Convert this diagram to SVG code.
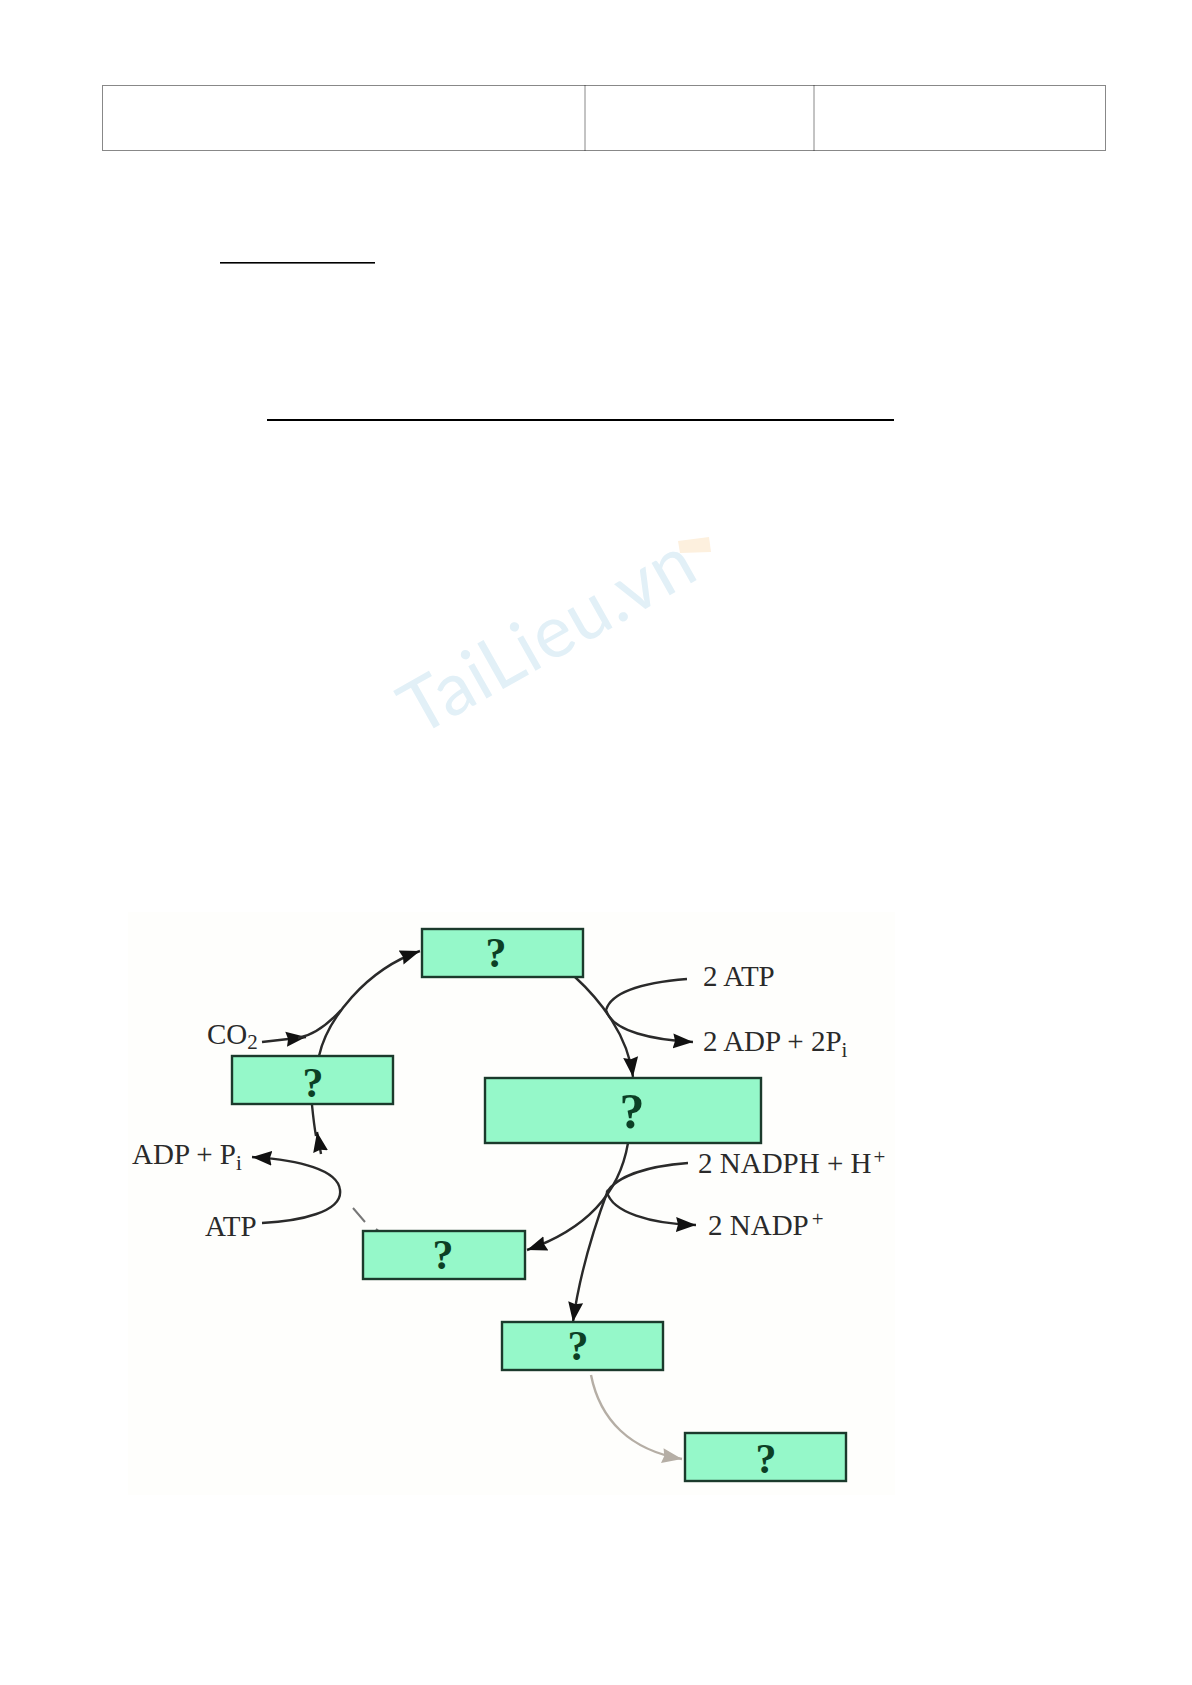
<svg xmlns="http://www.w3.org/2000/svg" width="1192" height="1685" viewBox="0 0 1192 1685">
<style>
.box{fill:#95f8c9;stroke:#1b3a2c;stroke-width:2.4}
.q{font-family:"Liberation Serif",serif;font-weight:bold;font-size:42px;fill:#0c3f25;text-anchor:middle}
.t{font-family:"Liberation Serif",serif;font-size:29px;fill:#2a2a2a}
.s{font-size:21px}
.c{fill:none;stroke:#2a2a2a;stroke-width:2.4}
.tb{fill:none;stroke:#111;stroke-width:1;stroke-dasharray:1 1}
</style>
<defs>
<marker id="h" markerUnits="userSpaceOnUse" markerWidth="22" markerHeight="18" refX="20" refY="9" orient="auto"><path d="M0,1.5 L20,9 L0,16.5 L2,9 Z" fill="#111"/></marker>
<marker id="g" markerUnits="userSpaceOnUse" markerWidth="22" markerHeight="18" refX="20" refY="9" orient="auto"><path d="M0,1.5 L20,9 L0,16.5 L2,9 Z" fill="#b5aea5"/></marker>
</defs>
<rect width="1192" height="1685" fill="#fff"/>
<g id="table">
<rect class="tb" x="102.5" y="85.5" width="1003" height="65"/>
<path class="tb" d="M585,85.5V150.5M814,85.5V150.5"/>
</g>
<g id="underlines" fill="#000">
<rect x="220" y="262" width="155" height="1.6"/>
<rect x="267" y="419" width="627" height="2"/>
</g>
<g id="watermark">
<text x="418" y="737" transform="rotate(-29.4 418 737)" font-family="Lato,Liberation Sans,sans-serif" font-size="73" letter-spacing="1" fill="#e2f0f7">TaiLieu.vn</text>
<path d="M678,541 L709,537 L711,552 L680,553 Z" fill="#fdf0de"/>
</g>
<rect id="figure-ground" x="128" y="912" width="767" height="583" fill="#fefefc"/>
<g id="connectors">
<path class="c" d="M319,1056C327,1020 365,970 420,951" marker-end="url(#h)"/>
<path class="c" d="M262,1042L306,1037" marker-end="url(#h)"/>
<path class="c" d="M298,1038C315,1035 330,1022 341,1010"/>
<path class="c" d="M312,1105C313,1115 314,1125 316,1136"/>
<path class="c" d="M321,1154L317,1132" marker-end="url(#h)"/>
<path d="M353,1208L365,1222M376,1229L380,1232" fill="none" stroke="#777" stroke-width="2"/>
<path class="c" d="M262,1223C300,1221 343,1212 340,1190C338,1170 300,1160 252,1157" marker-end="url(#h)"/>
<path class="c" d="M575,977C600,1000 628,1035 633,1077" marker-end="url(#h)"/>
<path class="c" d="M687,979C650,982 612,990 606,1010C612,1032 655,1040 693,1042" marker-end="url(#h)"/>
<path class="c" d="M628,1143C620,1190 590,1228 527,1250" marker-end="url(#h)"/>
<path class="c" d="M608,1190C595,1225 580,1270 573,1322" marker-end="url(#h)"/>
<path class="c" d="M688,1163C650,1166 618,1175 607,1192C612,1212 650,1224 696,1225" marker-end="url(#h)"/>
<path d="M591,1375C600,1420 630,1450 682,1459" fill="none" stroke="#b5aea5" stroke-width="2.4" marker-end="url(#g)"/>
</g>
<g id="node-top"><rect class="box" x="422" y="929" width="161" height="48"/><text class="q" x="496" y="967">?</text></g>
<g id="node-left"><rect class="box" x="232" y="1056" width="161" height="48"/><text class="q" x="313" y="1097">?</text></g>
<g id="node-middle"><rect class="box" x="485" y="1078" width="276" height="65"/><text class="q" x="632" y="1128" style="font-size:50px">?</text></g>
<g id="node-lower-left"><rect class="box" x="363" y="1231" width="162" height="48"/><text class="q" x="443" y="1269">?</text></g>
<g id="node-lower"><rect class="box" x="502" y="1322" width="161" height="48"/><text class="q" x="578" y="1360">?</text></g>
<g id="node-final"><rect class="box" x="685" y="1433" width="161" height="48"/><text class="q" x="766" y="1473">?</text></g>
<g id="labels">
<text class="t" x="207" y="1044">CO<tspan class="s" dy="5">2</tspan></text>
<text class="t" x="132" y="1164">ADP + P<tspan class="s" dy="6">i</tspan></text>
<text class="t" x="205" y="1236">ATP</text>
<text class="t" x="703" y="986">2 ATP</text>
<text class="t" x="703" y="1051">2 ADP + 2P<tspan class="s" dy="6">i</tspan></text>
<text class="t" x="698" y="1173">2 NADPH + H<tspan class="s" dy="-9" dx="2">+</tspan></text>
<text class="t" x="708" y="1235">2 NADP<tspan class="s" dy="-9" dx="3">+</tspan></text>
</g>
</svg>
